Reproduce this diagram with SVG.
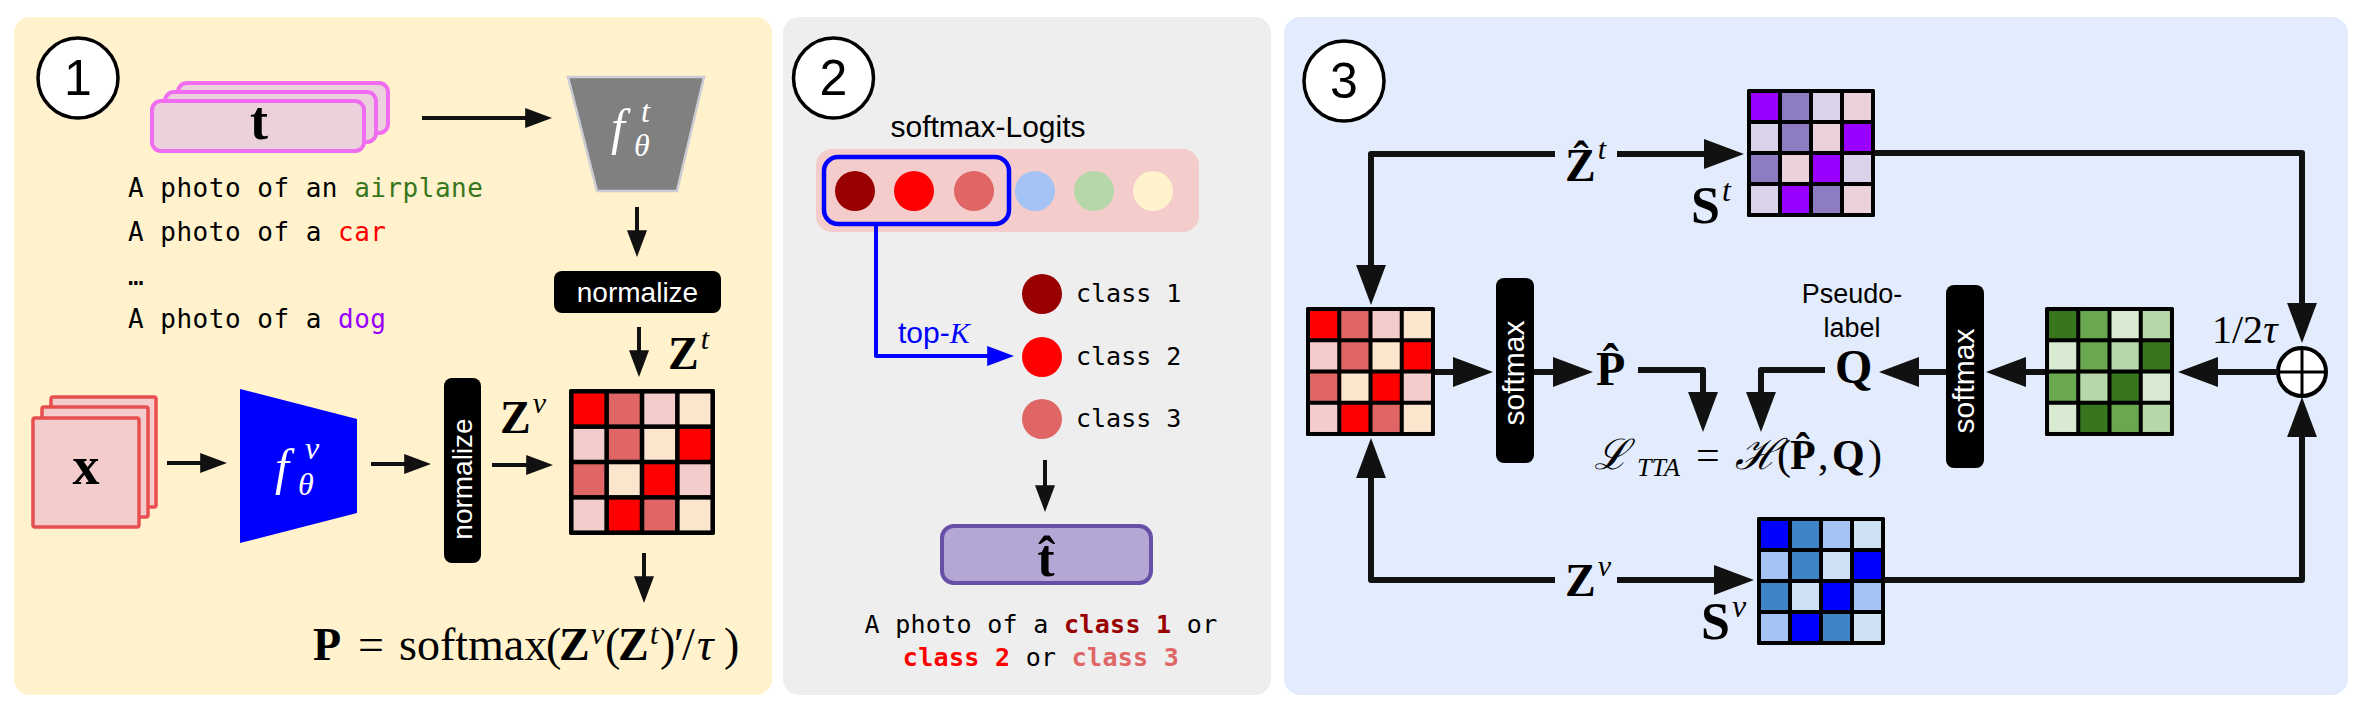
<svg xmlns="http://www.w3.org/2000/svg" width="2362" height="709" viewBox="0 0 2362 709">
<defs>
<style>
.sans{font-family:"Liberation Sans",Arial,sans-serif}
.serif{font-family:"Liberation Serif","DejaVu Serif",serif}
.mono{font-family:"DejaVu Sans Mono","Liberation Mono",monospace}
.num{fill:#fff;stroke:#000;stroke-width:3.5}
.numt{font-family:"Liberation Sans",Arial,sans-serif;font-size:50px;text-anchor:middle;fill:#000}
.c1{fill:none;stroke:#111;stroke-width:4;marker-end:url(#ah)}
.c3{fill:none;stroke:#111;stroke-width:6;stroke-linejoin:round;marker-end:url(#ah)}
.blue{fill:none;stroke:#0000FF;stroke-width:4;stroke-linejoin:round;marker-end:url(#ahb)}
.tstk{fill:#EAD1DC;stroke:#F06CF0;stroke-width:4}
.xstk{fill:#F4CCCC;stroke:#E84F4F;stroke-width:3.5}
.blk{fill:#000}
.wt{fill:#fff}
.bold{font-weight:bold}
.it{font-style:italic}
</style>
<marker id="ah" viewBox="0 0 6.7 5" refX="5.2" refY="2.5" markerWidth="6.7" markerHeight="5" orient="auto" markerUnits="strokeWidth"><path d="M0,0 L6.7,2.5 L0,5 z" fill="#111"/></marker>
<marker id="ahb" viewBox="0 0 6.7 5" refX="5.2" refY="2.5" markerWidth="6.7" markerHeight="5" orient="auto" markerUnits="strokeWidth"><path d="M0,0 L6.7,2.5 L0,5 z" fill="#0000FF"/></marker>
<g id="mat">
<rect width="128" height="128" rx="1.5" fill="#000"/>
<rect x="4" y="4" width="27" height="27" style="fill:var(--a)"/>
<rect x="35" y="4" width="27" height="27" style="fill:var(--b)"/>
<rect x="66" y="4" width="27" height="27" style="fill:var(--c)"/>
<rect x="97" y="4" width="27" height="27" style="fill:var(--d)"/>
<rect x="4" y="35" width="27" height="27" style="fill:var(--c)"/>
<rect x="35" y="35" width="27" height="27" style="fill:var(--b)"/>
<rect x="66" y="35" width="27" height="27" style="fill:var(--d)"/>
<rect x="97" y="35" width="27" height="27" style="fill:var(--a)"/>
<rect x="4" y="66" width="27" height="27" style="fill:var(--b)"/>
<rect x="35" y="66" width="27" height="27" style="fill:var(--d)"/>
<rect x="66" y="66" width="27" height="27" style="fill:var(--a)"/>
<rect x="97" y="66" width="27" height="27" style="fill:var(--c)"/>
<rect x="4" y="97" width="27" height="27" style="fill:var(--c)"/>
<rect x="35" y="97" width="27" height="27" style="fill:var(--a)"/>
<rect x="66" y="97" width="27" height="27" style="fill:var(--b)"/>
<rect x="97" y="97" width="27" height="27" style="fill:var(--d)"/>
</g>
</defs>

<!-- panels -->
<rect x="14" y="17" width="758" height="678" rx="16" fill="#FFF2CC"/>
<rect x="783" y="17" width="488" height="678" rx="16" fill="#EEEEEE"/>
<rect x="1284" y="17" width="1064" height="678" rx="16" fill="#E3ECFC"/>

<!-- ============ Panel 1 ============ -->
<g id="step1">
<circle cx="78" cy="78" r="40" class="num"/>
<text x="78" y="95" class="numt">1</text>
</g>
<g id="text-input">
<rect x="178" y="83" width="210" height="50" rx="9" class="tstk"/>
<rect x="165" y="92" width="211" height="50" rx="9" class="tstk"/>
<rect x="152" y="101" width="212" height="50" rx="9" class="tstk"/>
<text x="259" y="139" class="serif bold" font-size="54" text-anchor="middle">t</text>
</g>
<g id="prompts" class="mono" font-size="26" letter-spacing="0.5">
<text x="128" y="197">A photo of an <tspan fill="#38761D">airplane</tspan></text>
<text x="128" y="241">A photo of a <tspan fill="#FF0000">car</tspan></text>
<text x="128" y="285">…</text>
<text x="128" y="328">A photo of a <tspan fill="#9900FF">dog</tspan></text>
</g>
<g id="text-encoder">
<polygon points="568,77 704,77 677,191 597,191" fill="#808080" stroke="#CCCCD4" stroke-width="2.5"/>
<text class="serif it wt"><tspan x="611" y="144" font-size="50">f</tspan><tspan x="641" y="122" font-size="32">t</tspan><tspan x="634" y="156" font-size="32">θ</tspan></text>
</g>
<g id="normalize-t">
<rect x="554" y="271" width="167" height="42" rx="8" class="blk"/>
<text x="637.5" y="302" class="sans wt" font-size="28" text-anchor="middle">normalize</text>
</g>
<g id="image-input">
<rect x="51" y="397" width="105" height="110" rx="2" class="xstk"/>
<rect x="42" y="407" width="106" height="110" rx="2" class="xstk"/>
<rect x="33" y="418" width="106" height="109" rx="2" class="xstk"/>
<text x="86" y="484" class="serif bold" font-size="54" text-anchor="middle">x</text>
</g>
<g id="image-encoder">
<polygon points="240,389 357,419 357,513 240,543" fill="#0000FF"/>
<text class="serif it wt"><tspan x="275" y="484" font-size="50">f</tspan><tspan x="305" y="459" font-size="32">v</tspan><tspan x="298" y="495" font-size="32">θ</tspan></text>
</g>
<g id="normalize-v">
<rect x="444" y="378" width="37" height="185" rx="8" class="blk"/>
<text transform="translate(472,479) rotate(-90)" class="sans wt" font-size="28" text-anchor="middle">normalize</text>
</g>
<g id="matrix-P">
<use href="#mat" transform="translate(569,389) scale(1.1406)" style="--a:#FF0000;--b:#E06666;--c:#F4CCCC;--d:#FCE5CD"/>
</g>
<g id="labels-1" class="serif">
<text x="668" y="369"><tspan class="bold" font-size="46">Z</tspan><tspan class="it" font-size="30" dy="-20" dx="2">t</tspan></text>
<text x="500" y="433"><tspan class="bold" font-size="46">Z</tspan><tspan class="it" font-size="30" dy="-20" dx="2">v</tspan></text>
</g>
<g id="formula-P" class="serif">
<text y="660" font-size="46"><tspan x="313" class="bold">P</tspan><tspan x="358">=</tspan><tspan x="399">softmax</tspan><tspan x="546">(</tspan><tspan x="559" class="bold">Z</tspan><tspan x="591" y="644" font-size="30" class="it">v</tspan><tspan x="605" y="660">(</tspan><tspan x="618" class="bold">Z</tspan><tspan x="650" y="644" font-size="30" class="it">t</tspan><tspan x="660" y="660">)</tspan><tspan x="674">′</tspan><tspan x="682">/</tspan><tspan x="697" class="it">τ</tspan><tspan x="724">)</tspan></text>
</g>
<g id="connectors-1">
<path d="M422,118 H546" class="c1"/>
<path d="M637,207 V251" class="c1"/>
<path d="M639,327 V371" class="c1"/>
<path d="M167,463 H221" class="c1"/>
<path d="M371,464 H425" class="c1"/>
<path d="M492,465 H547" class="c1"/>
<path d="M644,553 V597" class="c1"/>
</g>

<!-- ============ Panel 2 ============ -->
<g id="step2">
<circle cx="833.5" cy="78" r="40" class="num"/>
<text x="833.5" y="95" class="numt">2</text>
</g>
<g id="logits">
<text x="988" y="137" class="sans" font-size="30" text-anchor="middle">softmax-Logits</text>
<rect x="816" y="149" width="383" height="83" rx="16" fill="#F4CCCC"/>
<circle cx="855" cy="191" r="20" fill="#990000"/>
<circle cx="914" cy="191" r="20" fill="#FF0000"/>
<circle cx="974" cy="191" r="20" fill="#E06666"/>
<circle cx="1035" cy="191" r="20" fill="#A4C2F4"/>
<circle cx="1094" cy="191" r="20" fill="#B6D7A8"/>
<circle cx="1153" cy="191" r="20" fill="#FFF2CC"/>
<rect x="824" y="157" width="185" height="67" rx="14" fill="none" stroke="#0000FF" stroke-width="4.5"/>
</g>
<g id="topk-classes" class="mono" font-size="25">
<circle cx="1042" cy="294" r="20" fill="#990000"/>
<circle cx="1042" cy="357" r="20" fill="#FF0000"/>
<circle cx="1042" cy="419" r="20" fill="#E06666"/>
<text x="1076" y="302">class 1</text>
<text x="1076" y="365">class 2</text>
<text x="1076" y="427">class 3</text>
</g>
<g id="t-hat">
<rect x="942" y="526" width="209" height="57" rx="12" fill="#B4A7D6" stroke="#674EA7" stroke-width="4"/>
<text x="1046" y="576" class="serif bold" font-size="52" text-anchor="middle">t̂</text>
</g>
<g id="prompt-2" class="mono" font-size="25" letter-spacing="0.3" text-anchor="middle">
<text x="1041" y="633">A photo of a <tspan class="bold" fill="#990000">class 1</tspan> or</text>
<text x="1041" y="666"><tspan class="bold" fill="#FF0000">class 2</tspan> or <tspan class="bold" fill="#E06666">class 3</tspan></text>
</g>
<g id="connectors-2">
<path d="M876,224 V356 H1008" class="blue"/>
<text x="898" y="343" class="sans" font-size="30" fill="#0000FF">top-<tspan class="serif it">K</tspan></text>
<path d="M1045,460 V506" class="c1"/>
</g>

<!-- ============ Panel 3 ============ -->
<g id="step3">
<circle cx="1344" cy="81" r="40" class="num"/>
<text x="1344" y="98" class="numt">3</text>
</g>
<g id="matrix-P3">
<use href="#mat" transform="translate(1306,307) scale(1.0078)" style="--a:#FF0000;--b:#E06666;--c:#F4CCCC;--d:#FCE5CD"/>
</g>
<g id="matrix-St">
<use href="#mat" transform="translate(1747,89)" style="--a:#9900FF;--b:#8E7CC3;--c:#D9D2E9;--d:#EAD1DC"/>
<text x="1691" y="223" class="serif"><tspan class="bold" font-size="52">S</tspan><tspan class="it" font-size="32" dy="-22" dx="2">t</tspan></text>
</g>
<g id="matrix-Sv">
<use href="#mat" transform="translate(1757,517)" style="--a:#0000FF;--b:#3D85C6;--c:#A4C2F4;--d:#CFE2F3"/>
<text x="1701" y="639" class="serif"><tspan class="bold" font-size="52">S</tspan><tspan class="it" font-size="32" dy="-22" dx="2">v</tspan></text>
</g>
<g id="matrix-Q">
<use href="#mat" transform="translate(2045,307) scale(1.0078)" style="--a:#38761D;--b:#6AA84F;--c:#D9EAD3;--d:#B6D7A8"/>
</g>
<g id="softmax-1">
<rect x="1496" y="278" width="38" height="185" rx="8" class="blk"/>
<text transform="translate(1524,373) rotate(-90)" class="sans wt" font-size="30" text-anchor="middle">softmax</text>
</g>
<g id="softmax-2">
<rect x="1946" y="285" width="38" height="183" rx="8" class="blk"/>
<text transform="translate(1974,381) rotate(-90)" class="sans wt" font-size="30" text-anchor="middle">softmax</text>
</g>
<g id="sum">
<circle cx="2302" cy="372" r="24" fill="#fff" stroke="#000" stroke-width="4"/>
<path d="M2278,372 H2326 M2302,348 V396" stroke="#000" stroke-width="3" fill="none"/>
</g>
<g id="labels-3" class="serif">
<text x="1565" y="181"><tspan class="bold" font-size="46">Ẑ</tspan><tspan class="it" font-size="30" dy="-22" dx="2">t</tspan></text>
<text x="1565" y="596"><tspan class="bold" font-size="46">Z</tspan><tspan class="it" font-size="30" dy="-20" dx="2">v</tspan></text>
<text x="1596" y="385" class="bold" font-size="48">P̂</text>
<text x="1835" y="383" class="bold" font-size="48">Q</text>
<text x="2212" y="343" font-size="40">1/2<tspan class="it">τ</tspan></text>
<text class="sans" font-size="27" text-anchor="middle"><tspan x="1852" y="303">Pseudo-</tspan><tspan x="1852" y="337">label</tspan></text>
</g>
<g id="loss" class="serif">
<text y="469" font-size="42"><tspan x="1594" class="it">ℒ</tspan><tspan x="1637" y="476" font-size="26" class="it">TTA</tspan><tspan x="1696" y="469">=</tspan><tspan x="1735" class="it">ℋ</tspan><tspan x="1777">(</tspan><tspan x="1790" class="bold">P̂</tspan><tspan x="1818">,</tspan><tspan x="1832" class="bold">Q</tspan><tspan x="1868">)</tspan></text>
</g>
<g id="connectors-3">
<path d="M1555,154 H1371 V296" class="c3"/>
<path d="M1617,154 H1735" class="c3"/>
<path d="M1874,153 H2302 V334" class="c3"/>
<path d="M2278,372 H2187" class="c3"/>
<path d="M2045,372 H1995" class="c3"/>
<path d="M1946,372 H1888" class="c3"/>
<path d="M1825,370 H1761 V423" class="c3"/>
<path d="M1435,372 H1484" class="c3"/>
<path d="M1534,372 H1584" class="c3"/>
<path d="M1638,370 H1703 V423" class="c3"/>
<path d="M1555,580 H1371 V447" class="c3"/>
<path d="M1617,580 H1745" class="c3"/>
<path d="M1884,580 H2302 V406" class="c3"/>
</g>
</svg>
